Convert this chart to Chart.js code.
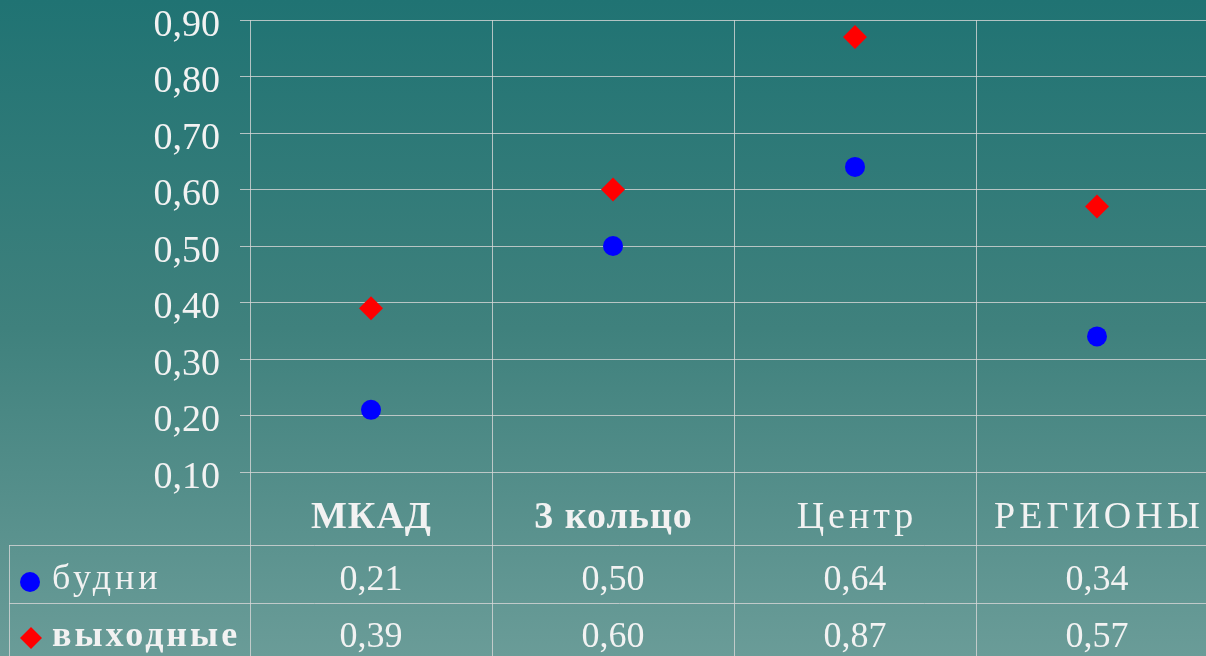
<!DOCTYPE html>
<html>
<head>
<meta charset="utf-8">
<script src="https://cdn.jsdelivr.net/npm/chart.js@4"></script>
<style>
  html, body { margin:0; padding:0; width:1206px; height:656px; overflow:hidden;
    background: linear-gradient(to bottom, #207373 0%, #3f817d 50%, #6a9c98 100%); }
  #wrap { width:1230px; height:656px; }
</style>
</head>
<body>
<div id="wrap"><canvas id="c" width="1230" height="656"></canvas></div>
<script>
const categories = ['МКАД', '3 кольцо', 'Центр', 'РЕГИОНЫ'];
const weekdays = [0.21, 0.50, 0.64, 0.34];
const weekends = [0.39, 0.60, 0.87, 0.57];
const seriesNames = ['будни', 'выходные'];
const yTicks = [0.10, 0.20, 0.30, 0.40, 0.50, 0.60, 0.70, 0.80, 0.90];

const fmt = v => v.toFixed(2).replace('.', ',');
const SERIF = '"Liberation Serif", "Times New Roman", serif';
const TXT = '#f2f2f2';
const GRID = 'rgba(215,215,215,0.8)';

const tablePlugin = {
  id: 'tablePlugin',
  afterDraw(chart) {
    const ctx = chart.ctx;
    const xs = chart.scales.x;
    const H = chart.height;
    const row1 = 545, row2 = 603;
    ctx.save();
    ctx.strokeStyle = GRID;
    ctx.lineWidth = 1;
    ctx.beginPath();
    ctx.moveTo(9, row1 + 0.5); ctx.lineTo(chart.width, row1 + 0.5);
    ctx.moveTo(9, row2 + 0.5); ctx.lineTo(chart.width, row2 + 0.5);
    ctx.moveTo(9.5, row1); ctx.lineTo(9.5, H);
    ctx.stroke();

    ctx.fillStyle = TXT;
    ctx.textAlign = 'center';
    ctx.textBaseline = 'middle';
    categories.forEach((c, i) => {
      const bold = i < 2;
      ctx.font = (bold ? 'bold ' : '') + '38px ' + SERIF;
      ctx.letterSpacing = bold ? '1px' : '4px';
      ctx.fillText(c, xs.getPixelForValue(i) + (bold ? 0.5 : 2), 518);
    });
    ctx.letterSpacing = '0px';
    ctx.font = '36px ' + SERIF;
    weekdays.forEach((v, i) => ctx.fillText(fmt(v), xs.getPixelForValue(i), 581));
    weekends.forEach((v, i) => ctx.fillText(fmt(v), xs.getPixelForValue(i), 638));

    ctx.fillStyle = '#0000ff';
    ctx.beginPath(); ctx.arc(30, 582, 10, 0, Math.PI * 2); ctx.fill();
    ctx.fillStyle = '#ff0000';
    ctx.beginPath();
    ctx.moveTo(31, 627); ctx.lineTo(42, 638); ctx.lineTo(31, 649); ctx.lineTo(20, 638);
    ctx.closePath(); ctx.fill();

    ctx.fillStyle = TXT;
    ctx.textAlign = 'left';
    ctx.letterSpacing = '4px';
    ctx.font = '36px ' + SERIF;
    ctx.fillText(seriesNames[0], 52, 580);
    ctx.letterSpacing = '3px';
    ctx.font = 'bold 36px ' + SERIF;
    ctx.fillText(seriesNames[1], 52, 637);
    ctx.restore();
  }
};

new Chart(document.getElementById('c'), {
  type: 'line',
  data: {
    labels: categories,
    datasets: [
      { label: seriesNames[0], data: weekdays, showLine: false,
        pointStyle: 'circle', pointRadius: 10, pointHoverRadius: 10,
        backgroundColor: '#0000ff', borderColor: '#0000ff', pointBorderWidth: 0 },
      { label: seriesNames[1], data: weekends, showLine: false,
        pointStyle: 'rectRot', pointRadius: 12, pointHoverRadius: 12,
        backgroundColor: '#ff0000', borderColor: '#ff0000', pointBorderWidth: 0 }
    ]
  },
  options: {
    responsive: false,
    devicePixelRatio: 1,
    animation: false,
    events: [],
    layout: { padding: { top: 20, right: 12, left: 0, bottom: 0 } },
    plugins: { legend: { display: false }, tooltip: { enabled: false }, title: { display: false } },
    scales: {
      x: {
        type: 'category',
        offset: true,
        grid: { offset: true, color: GRID, lineWidth: 1, tickLength: 184, drawTicks: true, drawOnChartArea: true },
        border: { display: false },
        ticks: { display: false },
        afterFit: s => { s.height = 184; s.paddingLeft = 0; s.paddingRight = 0; s.paddingTop = 0; s.paddingBottom = 0; }
      },
      y: {
        min: 0.1, max: 0.9,
        afterBuildTicks: s => { s.ticks = yTicks.map(v => ({ value: v })); },
        grid: { color: GRID, lineWidth: 1, tickLength: 10 },
        border: { display: false },
        ticks: { color: TXT, padding: 20, labelOffset: 6, font: { family: SERIF, size: 38, lineHeight: 1 },
          callback: v => fmt(v) },
        afterFit: s => { s.width = 250; s.paddingTop = 0; s.paddingBottom = 0; }
      }
    }
  },
  plugins: [tablePlugin]
});
</script>
</body>
</html>
